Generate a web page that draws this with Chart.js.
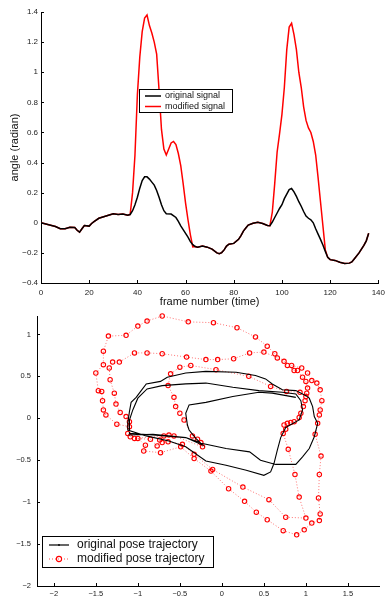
<!DOCTYPE html>
<html>
<head>
<meta charset="utf-8">
<script src="https://cdn.jsdelivr.net/npm/chart.js@4/dist/chart.umd.min.js"></script>
<style>
html,body{margin:0;padding:0;background:#fff;}
#wrap{position:relative;width:390px;height:599px;overflow:hidden;}
canvas{position:absolute;left:0;}
#c1{top:0;}
#c2{top:305px;}
</style>
</head>
<body>
<div id="wrap">
<canvas id="c1" width="390" height="310"></canvas>
<canvas id="c2" width="390" height="294"></canvas>
</div>
<script>
// ---------- Top chart data: angle (radian) vs frame ----------
const origFrames = [0,2,4,6,8,10,12,14,15,16,17,18,20,21,22,24,26,28,30,32,34,36,37,38,39,40,41,42,43,44,45,46,47,48,49,50,51,52,54,56,57,58,59,60,61,62,63,64,65,67,69,71,73,74,75,76,77,78,80,82,83,84,85,86,88,90,92,94,95,96,97,98,99,100,101,102,103,104,105,106,107,108,109,110,111,112,113,114,115,116,117,118,119,120,122,124,126,128,129,130,132,134,135,136];
const origAngle  = [0,-0.008,-0.016,-0.025,-0.04,-0.04,-0.03,-0.032,-0.05,-0.062,-0.04,-0.018,-0.022,-0.005,0.008,0.03,0.04,0.05,0.06,0.055,0.058,0.05,0.055,0.08,0.12,0.17,0.23,0.28,0.305,0.305,0.29,0.27,0.25,0.215,0.17,0.12,0.08,0.06,0.058,0.035,0.01,-0.02,-0.045,-0.07,-0.095,-0.125,-0.145,-0.158,-0.162,-0.155,-0.162,-0.175,-0.2,-0.205,-0.198,-0.18,-0.155,-0.142,-0.137,-0.11,-0.085,-0.055,-0.035,-0.015,-0.003,0.003,-0.005,-0.018,-0.02,0.005,0.035,0.065,0.095,0.12,0.16,0.19,0.22,0.228,0.205,0.175,0.14,0.11,0.075,0.045,0.03,0.02,0,-0.04,-0.075,-0.11,-0.148,-0.19,-0.23,-0.245,-0.25,-0.262,-0.27,-0.268,-0.26,-0.24,-0.2,-0.15,-0.12,-0.07];
const modFrames  = [0,2,4,6,8,10,12,14,15,16,17,18,20,21,22,24,26,28,30,32,34,36,37,38,39,40,41,42,43,44,45,46,47,48,49,50,51,52,53,54,55,56,57,58,59,60,61,62,63,64,65,67,69,71,73,74,75,76,77,78,80,82,83,84,85,86,88,90,92,94,95,96,97,98,99,100,101,102,103,104,105,106,107,108,109,110,111,112,113,114,115,116,117,118,119,120,122,124,126,128,129,130,132,134,135,136];
const modAngle   = [0,-0.008,-0.016,-0.025,-0.04,-0.04,-0.03,-0.032,-0.05,-0.062,-0.04,-0.018,-0.022,-0.005,0.008,0.03,0.04,0.05,0.06,0.055,0.058,0.05,0.055,0.2,0.45,0.85,1.1,1.27,1.36,1.38,1.31,1.26,1.2,1.12,0.88,0.62,0.49,0.45,0.49,0.53,0.54,0.52,0.46,0.38,0.26,0.13,0.02,-0.08,-0.16,-0.158,-0.162,-0.155,-0.162,-0.175,-0.2,-0.205,-0.198,-0.18,-0.155,-0.142,-0.137,-0.11,-0.085,-0.055,-0.035,-0.015,-0.003,0.003,-0.005,-0.018,-0.02,0.07,0.26,0.47,0.59,0.72,0.9,1.15,1.3,1.325,1.25,1.15,1.0,0.9,0.77,0.68,0.63,0.6,0.54,0.45,0.3,0.14,-0.02,-0.18,-0.23,-0.245,-0.25,-0.262,-0.27,-0.268,-0.26,-0.24,-0.2,-0.15,-0.12,-0.07];
const topXTicks = {min:0, max:140, step:20};
const topYTicks = {min:-0.4, max:1.4, step:0.2};

// ---------- Bottom chart data: pose trajectories ----------
const origTrajX = [-1.11,-0.82,-0.43,-0.23,0.05,0.33,0.46,0.64,0.88,0.96,1.04,1.10,1.14,1.10,1.08,1.04,1.00,0.88,0.72,0.60,0.52,0.40,0.17,-0.19,-0.43,-0.65,-0.73,-0.90,-0.96,-1.02,-1.08,-1.10,-1.12,-1.12,-0.90,-0.63,-0.43,-0.19,0.05,0.29,0.50,0.58,0.62,0.66,0.70,0.76,0.92,0.96,0.94,0.88,0.72,0.44,0.13,-0.19,-0.43,-0.71,-0.89,-1.00,-1.06,-1.10,-1.10,-0.82,-0.43,-0.23,-0.31,-0.39,-0.41,-0.43,-0.39,-0.19,0.13,0.44,0.60,0.88];
const origTrajY = [-0.20,-0.19,-0.23,-0.30,-0.36,-0.40,-0.50,-0.55,-0.55,-0.46,-0.36,-0.22,-0.06,0.02,0.14,0.24,0.27,0.33,0.34,0.41,0.47,0.51,0.55,0.56,0.54,0.49,0.44,0.41,0.33,0.25,0.19,0.08,-0.06,-0.14,-0.21,-0.27,-0.34,-0.51,-0.56,-0.62,-0.68,-0.64,-0.54,-0.38,-0.23,-0.11,-0.02,0.10,0.21,0.29,0.31,0.33,0.37,0.42,0.41,0.39,0.35,0.24,0.10,-0.02,-0.18,-0.20,-0.23,-0.32,-0.24,-0.14,-0.08,0.06,0.16,0.19,0.26,0.31,0.30,0.25];
const modTrajX = [
 -1.10,-1.25,-1.38,-1.41,-1.42,-1.43,-1.47,-1.50,-1.41,-1.41,-1.35,-1.14,-1.00,-0.89,-0.71,-0.40,-0.10,0.18,0.40,0.54,0.63,0.74,0.83,0.95,1.02,1.07,1.13,1.17,1.19,1.17,1.16,1.14,1.11,1.18,1.16,1.15,1.17,1.16,1.07,0.98,0.89,0.73,0.54,0.41,0.27,0.08,-0.13,-0.33,-0.49,-0.73,-0.93,-0.91,-1.00,-1.09,
 -1.12,-1.10,-1.14,-1.21,-1.26,-1.28,-1.33,-1.34,-1.30,-1.22,-1.04,-0.89,-0.71,-0.42,-0.19,-0.05,0.14,0.33,0.50,0.66,0.78,0.86,0.90,0.96,1.00,1.02,1.01,1.00,0.99,0.97,0.94,0.92,0.86,0.82,0.78,0.74,0.76,0.73,0.79,0.87,0.92,1.00,0.76,0.56,0.25,-0.11,-0.33,-0.47,-0.64,-0.71,-0.74,-0.77,-0.85,-1.04,
 -0.69,-0.63,-0.57,-0.23,-0.25,-0.29,-0.35,-0.45,-0.50,-0.55,-0.57,-0.64,-0.61,-0.50,-0.37,-0.07,0.32,0.58,0.77,0.93];
const modTrajY = [
 -0.10,-0.07,0.04,0.10,0.21,0.32,0.33,0.54,0.64,0.80,0.98,0.99,1.10,1.16,1.22,1.15,1.14,1.08,0.97,0.86,0.77,0.68,0.63,0.60,0.54,0.45,0.42,0.34,0.21,0.10,0.04,-0.06,-0.19,-0.45,-0.67,-0.95,-1.14,-1.22,-1.25,-1.33,-1.39,-1.34,-1.21,-1.12,-0.99,-0.84,-0.63,-0.48,-0.34,-0.41,-0.39,-0.32,-0.24,-0.22,
 -0.18,-0.04,0.02,0.07,0.17,0.30,0.46,0.60,0.67,0.67,0.78,0.78,0.77,0.73,0.70,0.70,0.71,0.78,0.79,0.72,0.63,0.57,0.57,0.49,0.44,0.36,0.30,0.26,0.21,0.14,0.06,0.01,-0.04,-0.05,-0.06,-0.08,-0.13,-0.18,-0.37,-0.67,-0.94,-1.19,-1.18,-0.97,-0.82,-0.61,-0.43,-0.31,-0.28,-0.29,-0.26,-0.33,-0.25,-0.24,
 -0.21,-0.20,-0.21,-0.34,-0.29,-0.25,-0.21,-0.02,0.06,0.14,0.25,0.39,0.53,0.61,0.63,0.58,0.50,0.38,0.32,0.31];
const botXTicks = {min:-2.2, max:1.87, step:0.5};
const botYTicks = {min:-2, max:1.22, step:0.5};

// ---------- helpers ----------
const FONT = "'Liberation Sans', Arial, Helvetica, sans-serif";
const pts = (xs, ys) => xs.map((x, i) => ({x, y: ys[i]}));
const fmt = v => { const r = Math.round(v * 10) / 10; return (r < 0 ? '\u2212' : '') + Math.abs(r); };

const inwardTicks = {
  id: 'inwardTicks',
  afterDatasetsDraw(chart) {
    const {ctx, chartArea: a, scales: {x, y}} = chart;
    ctx.save();
    ctx.strokeStyle = '#000';
    ctx.lineWidth = 1;
    ctx.beginPath();
    x.ticks.forEach(t => { const p = Math.round(x.getPixelForValue(t.value)) + 0.5; ctx.moveTo(p, a.bottom); ctx.lineTo(p, a.bottom - 3); });
    y.ticks.forEach(t => { const p = Math.round(y.getPixelForValue(t.value)) + 0.5; ctx.moveTo(a.left, p); ctx.lineTo(a.left + 3, p); });
    ctx.stroke();
    ctx.restore();
  }
};

function legendPlugin(id, box, rows, fontSize) {
  return {
    id,
    afterDraw(chart) {
      const ctx = chart.ctx;
      ctx.save();
      ctx.fillStyle = '#fff';
      ctx.fillRect(box.x, box.y, box.w, box.h);
      ctx.strokeStyle = '#000';
      ctx.lineWidth = 1;
      ctx.strokeRect(box.x + 0.5, box.y + 0.5, box.w, box.h);
      ctx.font = fontSize + 'px ' + FONT;
      ctx.textBaseline = 'middle';
      rows.forEach(r => {
        ctx.save();
        ctx.strokeStyle = r.color;
        ctx.lineWidth = r.width;
        if (r.dash) ctx.setLineDash(r.dash);
        ctx.beginPath();
        ctx.moveTo(r.x0, r.y); ctx.lineTo(r.x1, r.y);
        ctx.stroke();
        ctx.setLineDash([]);
        if (r.marker === 'circle') {
          ctx.strokeStyle = '#ff0000'; ctx.lineWidth = 1.1;
          ctx.beginPath(); ctx.arc((r.x0 + r.x1) / 2, r.y, 2.6, 0, Math.PI * 2); ctx.stroke();
        } else if (r.marker === 'dot') {
          ctx.fillStyle = r.color;
          ctx.beginPath(); ctx.arc((r.x0 + r.x1) / 2, r.y, 0.9, 0, Math.PI * 2); ctx.fill();
        }
        ctx.restore();
        ctx.fillStyle = '#111';
        ctx.fillText(r.label, r.tx, r.y);
      });
      ctx.restore();
    }
  };
}

Chart.defaults.font.family = FONT;
Chart.defaults.color = '#222';

// ---------- Top chart ----------
new Chart(document.getElementById('c1'), {
  type: 'scatter',
  data: {
    datasets: [
      {label: 'modified signal', data: pts(modFrames, modAngle), showLine: true, borderColor: '#ff0000', borderWidth: 1.5, pointRadius: 0, tension: 0, order: 2},
      {label: 'original signal', data: pts(origFrames, origAngle), showLine: true, borderColor: '#000000', borderWidth: 1.5, pointRadius: 0, tension: 0, order: 1}
    ]
  },
  options: {
    responsive: false, animation: false, devicePixelRatio: 1,
    layout: {padding: {left: 0, top: 12, right: 7, bottom: 0}},
    plugins: {legend: {display: false}, tooltip: {enabled: false}},
    scales: {
      x: {
        type: 'linear', min: topXTicks.min, max: topXTicks.max,
        grid: {drawOnChartArea: false, drawTicks: false},
        border: {display: true, color: '#000', width: 1},
        ticks: {stepSize: topXTicks.step, padding: 5, font: {size: 8}, color: '#222', maxRotation: 0},
        title: {display: true, text: 'frame number (time)', font: {size: 11}, color: '#111', padding: {top: 0, bottom: 1}},
        afterFit: s => { s.height = 27; }
      },
      y: {
        type: 'linear', min: topYTicks.min, max: topYTicks.max,
        grid: {drawOnChartArea: false, drawTicks: false},
        border: {display: true, color: '#000', width: 1},
        ticks: {stepSize: topYTicks.step, padding: 3, font: {size: 8}, color: '#222', callback: fmt},
        title: {display: true, text: 'angle (radian)', font: {size: 11}, color: '#111', padding: {top: 8, bottom: 0}},
        afterFit: s => { s.width = 41; }
      }
    }
  },
  plugins: [inwardTicks, legendPlugin('legTop', {x: 139, y: 89, w: 93, h: 23}, [
    {label: 'original signal', color: '#000', width: 1.5, x0: 145, x1: 161, tx: 165, y: 96},
    {label: 'modified signal', color: '#ff0000', width: 1.5, x0: 145, x1: 161, tx: 165, y: 106.5}
  ], 9)]
});

// ---------- Bottom chart ----------
new Chart(document.getElementById('c2'), {
  type: 'scatter',
  data: {
    datasets: [
      {label: 'modified pose trajectory', data: pts(modTrajX, modTrajY), showLine: true, borderColor: 'rgba(255,0,0,0.55)', borderWidth: 1, borderDash: [1, 2],
       pointRadius: 2.2, pointBorderWidth: 1.1, pointBorderColor: '#ff0000', pointBackgroundColor: 'rgba(255,255,255,0)', tension: 0, clip: false, order: 2},
      {label: 'original pose trajectory', data: pts(origTrajX, origTrajY), showLine: true, borderColor: '#000', borderWidth: 1.1,
       pointRadius: 0, tension: 0, clip: false, order: 1}
    ]
  },
  options: {
    responsive: false, animation: false, devicePixelRatio: 1,
    layout: {padding: {left: 0, top: 11, right: 11, bottom: 0}},
    plugins: {legend: {display: false}, tooltip: {enabled: false}},
    scales: {
      x: {
        type: 'linear', min: botXTicks.min, max: botXTicks.max,
        grid: {drawOnChartArea: false, drawTicks: false},
        border: {display: true, color: '#000', width: 1},
        ticks: {stepSize: botXTicks.step, includeBounds: false, padding: 3, font: {size: 7.5}, color: '#222', callback: fmt, maxRotation: 0},
        afterFit: s => { s.height = 13; }
      },
      y: {
        type: 'linear', min: botYTicks.min, max: botYTicks.max,
        grid: {drawOnChartArea: false, drawTicks: false},
        border: {display: true, color: '#000', width: 1},
        ticks: {stepSize: botYTicks.step, includeBounds: false, padding: 6, font: {size: 7.5}, color: '#222', callback: fmt},
        afterFit: s => { s.width = 37; }
      }
    }
  },
  plugins: [inwardTicks, legendPlugin('legBot', {x: 42, y: 231, w: 171, h: 31}, [
    {label: 'original pose trajectory', color: '#000', width: 1.2, x0: 49, x1: 69, tx: 77, y: 240, marker: 'dot'},
    {label: 'modified pose trajectory', color: 'rgba(255,0,0,0.7)', width: 1, dash: [1, 2], x0: 49, x1: 69, tx: 77, y: 254, marker: 'circle'}
  ], 12)]
});
</script>
</body>
</html>
